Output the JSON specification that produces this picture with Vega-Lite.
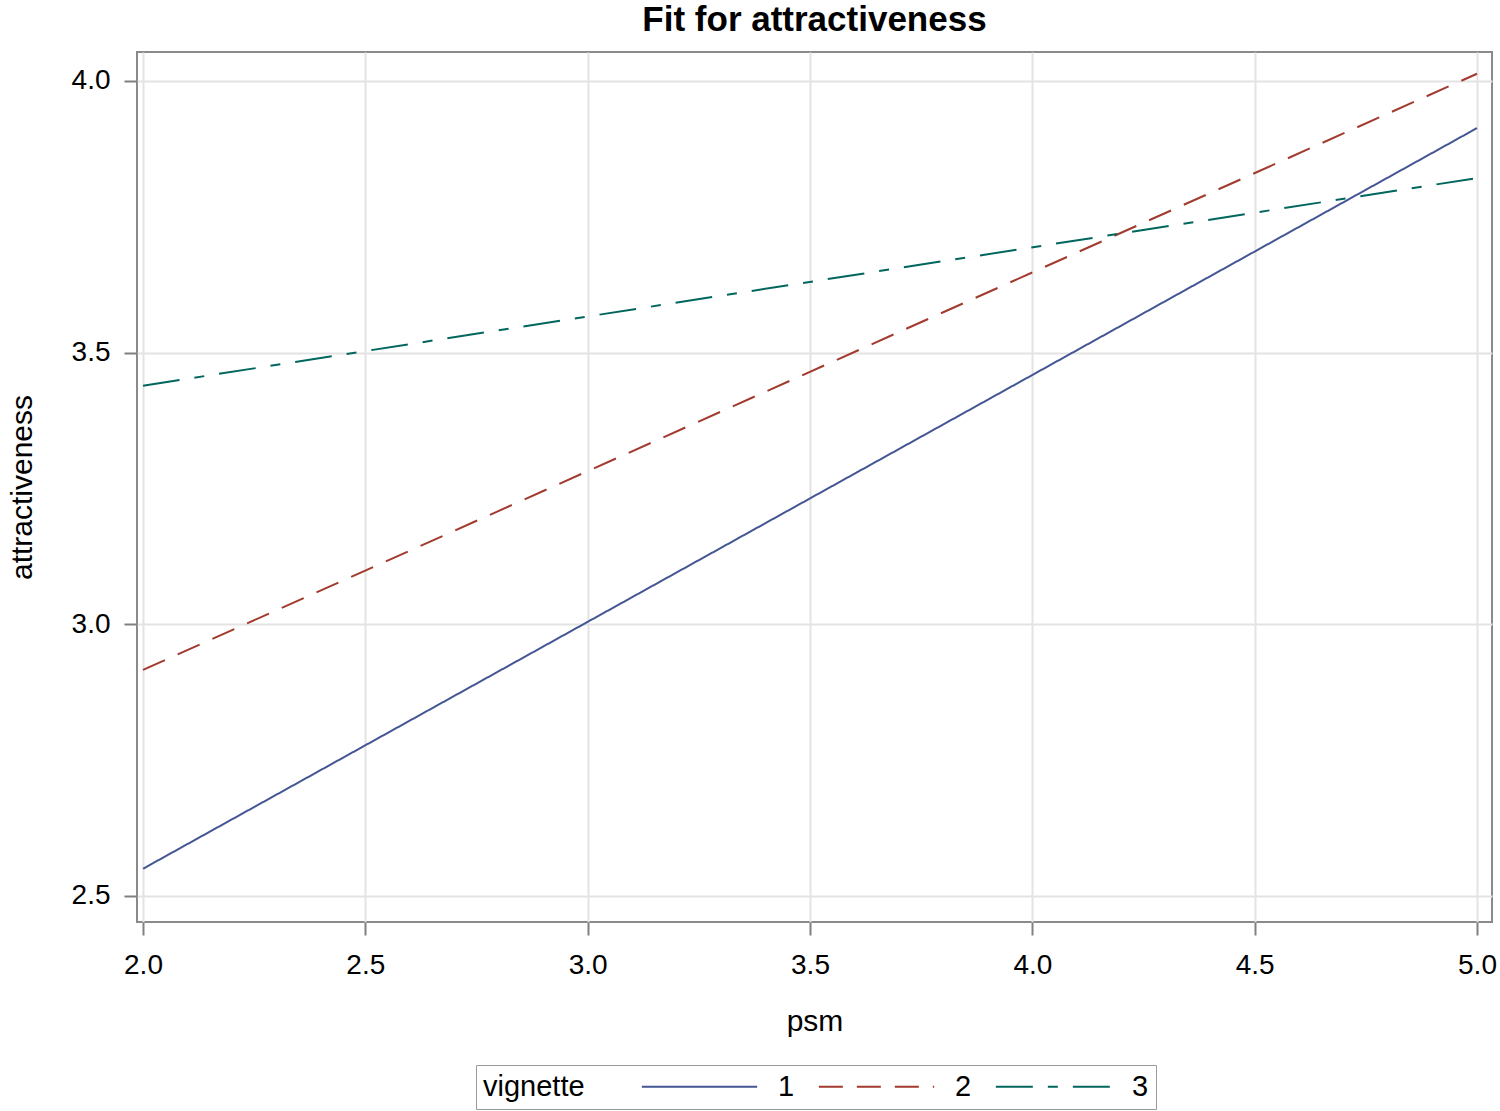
{
  "$schema": "https://vega.github.io/schema/vega-lite/v6.json",
  "width": 1355,
  "height": 870,
  "autosize": {"type": "none"},
  "padding": {"left": 137, "top": 52, "right": 8, "bottom": 189},
  "background": "white",
  "title": {"text": "Fit for attractiveness", "fontSize": 35, "font": "Liberation Sans", "fontWeight": "bold", "anchor": "middle", "offset": 14, "color": "black"},
  "data": {"values": [
    {"psm": 2, "attractiveness": 2.55, "vignette": "1"},
    {"psm": 5, "attractiveness": 3.913, "vignette": "1"},
    {"psm": 2, "attractiveness": 2.916, "vignette": "2"},
    {"psm": 5, "attractiveness": 4.013, "vignette": "2"},
    {"psm": 2, "attractiveness": 3.439, "vignette": "3"},
    {"psm": 5, "attractiveness": 3.821, "vignette": "3"}
  ]},
  "mark": {"type": "line", "strokeWidth": 2},
  "encoding": {
    "x": {"field": "psm", "type": "quantitative", "scale": {"domain": [1.9865, 5.0337], "nice": false, "zero": false}, "axis": {"values": [2, 2.5, 3, 3.5, 4, 4.5, 5], "format": ".1f", "title": "psm", "labelPadding": 16, "titlePadding": 27}},
    "y": {"field": "attractiveness", "type": "quantitative", "scale": {"domain": [2.452, 4.053], "nice": false, "zero": false}, "axis": {"values": [2.5, 3, 3.5, 4], "format": ".1f", "title": "attractiveness", "labelPadding": 14, "titlePadding": 34}},
    "color": {"field": "vignette", "type": "nominal", "title": "vignette", "scale": {"domain": ["1", "2", "3"], "range": ["#445694", "#A23A2E", "#01665E"]}},
    "strokeDash": {"field": "vignette", "type": "nominal", "title": "vignette", "scale": {"domain": ["1", "2", "3"], "range": [[1, 0], [24, 14], [37, 15, 10, 15]]}}
  },
  "config": {
    "font": "Liberation Sans",
    "view": {"stroke": "#8a8a8a", "strokeWidth": 2},
    "axis": {
      "labelFont": "Liberation Sans", "titleFont": "Liberation Sans",
      "labelFontSize": 28, "titleFontSize": 30, "titleFontWeight": "normal",
      "labelColor": "black", "titleColor": "black",
      "tickColor": "#808080", "tickSize": 13, "tickWidth": 2,
      "gridColor": "#e3e3e3", "gridWidth": 2, "domain": false
    },
    "legend": {
      "orient": "none", "legendX": 339, "legendY": 1013,
      "direction": "horizontal", "titleOrient": "left",
      "symbolType": "M-10,0H10", "symbolSize": 133, "symbolStrokeWidth": 2,
      "labelFont": "Liberation Sans", "titleFont": "Liberation Sans",
      "labelFontSize": 29, "titleFontSize": 29, "titleFontWeight": "normal",
      "labelColor": "black", "titleColor": "black",
      "strokeColor": "#9a9a9a", "fillColor": "white", "padding": 7,
      "titlePadding": 100, "labelOffset": 64, "columnPadding": 19
    }
  }
}
